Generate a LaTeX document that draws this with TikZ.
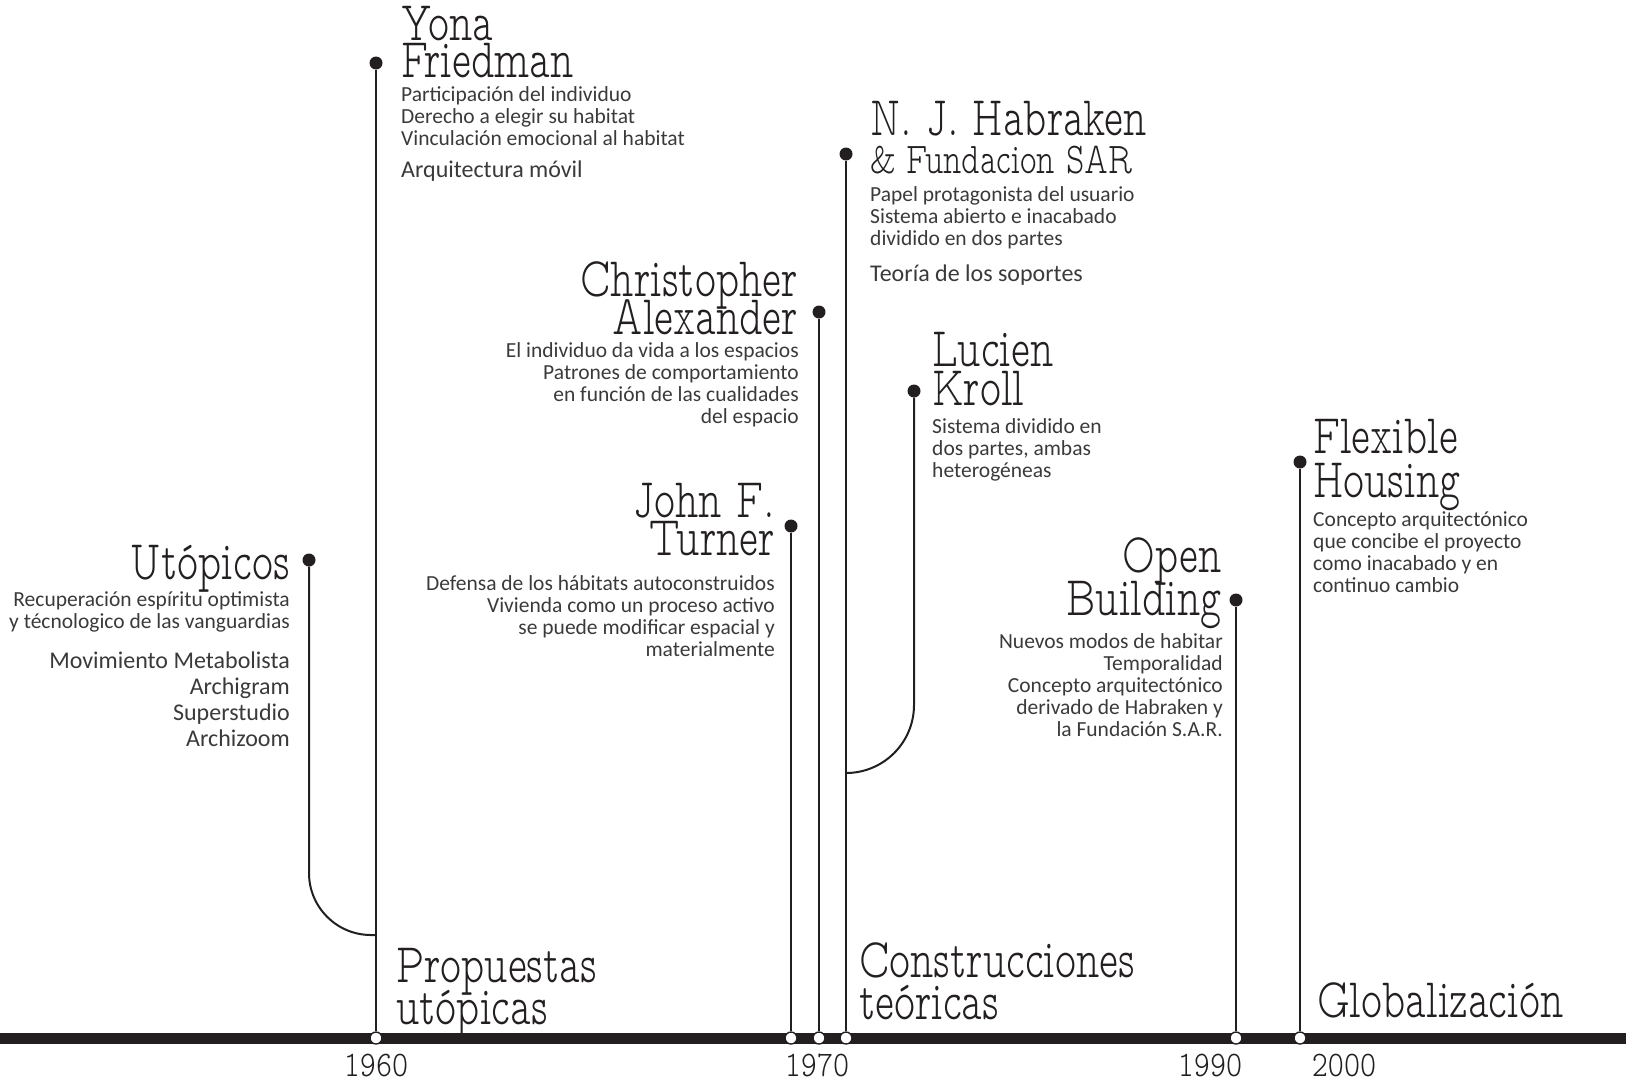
\documentclass[tikz,border=0pt]{standalone}
\usepackage{fontspec}
\setmainfont{Carlito}
\newfontfamily\headfont[FakeStretch=0.715]{lmmonoproplt10-regular.otf}
\newfontfamily\yearfont[FakeStretch=0.85]{lmmonoproplt10-regular.otf}
\definecolor{TimeInk}{HTML}{231F20}
\definecolor{TimeText}{HTML}{3A3A3A}
\newcommand\tightlines{\lineskiplimit=-100pt\relax}
\usetikzlibrary{positioning}

\begin{document}
\begin{tikzpicture}[
        x=1pt, y=-1pt,
        headline/.style={font={\headfont\fontsize{56}{39}\selectfont\tightlines}, text=TimeInk, inner sep=0pt},
        txt/.style={font={\fontsize{21.5}{22}\selectfont\tightlines}, text=TimeText, inner sep=0pt},
        yearlbl/.style={font={\yearfont\fontsize{36}{36}\selectfont}, text=TimeInk, inner sep=0pt},
        pindot/.style={circle, fill=TimeInk, inner sep=0pt, minimum size=13pt},
        yeartick/.style={circle, draw=TimeInk, fill=white, line width=1.4pt, inner sep=0pt, minimum size=12pt},
        stem/.style={draw=TimeInk, line width=2pt},
        bar/.style={draw=TimeInk, line width=11pt}
    ]
        \useasboundingbox (0,0) rectangle (1632,1080);

        % timeline
        \coordinate (barL) at (0,1038);
        \coordinate (barR) at (1626,1038);
        \draw[bar] (barL) -- (barR);

        % markers on the bar
        \node[yeartick] (tFriedman) at (376,1038) {};
        \node[yeartick] (tTurner) at (791,1038) {};
        \node[yeartick] (tAlexander) at (819,1038) {};
        \node[yeartick] (tHabraken) at (846,1038) {};
        \node[yeartick] (tOpen) at (1236,1038) {};
        \node[yeartick] (tFlexible) at (1300,1038) {};

        % pins
        \node[pindot] (pFriedman) at (376,63) {};
        \node[pindot] (pUtopicos) at (309,560) {};
        \node[pindot] (pTurner) at (791,526) {};
        \node[pindot] (pAlexander) at (819,312) {};
        \node[pindot] (pHabraken) at (846,154) {};
        \node[pindot] (pKroll) at (914,391) {};
        \node[pindot] (pOpen) at (1236,600) {};
        \node[pindot] (pFlexible) at (1300,462) {};

        \coordinate (jUtopicos) at (376,935);
        \coordinate (jKroll) at (846,773);

        \draw[stem] (pFriedman) -- (tFriedman);
        \draw[stem] (pTurner) -- (tTurner);
        \draw[stem] (pAlexander) -- (tAlexander);
        \draw[stem] (pHabraken) -- (tHabraken);
        \draw[stem] (pOpen) -- (tOpen);
        \draw[stem] (pFlexible) -- (tFlexible);
        \draw[stem, rounded corners=62pt] (pUtopicos) |- (jUtopicos);
        \draw[stem, rounded corners=68pt] (pKroll) |- (jKroll);

        % names
        \node[headline, anchor=north west, align=left] (hFriedman) at (401,6) {Yona\\[-2pt]Friedman};
        \node[txt, anchor=north west, align=left] (bFriedman) at (401,86) {Participación del individuo\\Derecho a elegir su habitat\\Vinculación emocional al habitat\\[10pt]{\fontsize{24}{26}\selectfont Arquitectura móvil}};

        \node[headline, anchor=north west, align=left] (hHabraken) at (870,101) {N. J. Habraken\\[-1pt]{\fontsize{44}{39}\selectfont\& Fundacion SAR}};
        \node[txt, anchor=north west, align=left] (bHabraken) at (870,186) {Papel protagonista del usuario\\Sistema abierto e inacabado\\dividido en dos partes\\[14pt]{\fontsize{24}{26}\selectfont Teoría de los soportes}};

        \node[headline, anchor=north east, align=right] (hAlexander) at (798,261) {Christopher\\[-1pt]Alexander};
        \node[txt, anchor=north east, align=right] (bAlexander) at (799,342) {El individuo da vida a los espacios\\Patrones de comportamiento\\en función de las cualidades\\del espacio};

        \node[headline, anchor=north west, align=left] (hKroll) at (932,332) {Lucien\\Kroll};
        \node[txt, anchor=north west, align=left] (bKroll) at (932,418) {Sistema dividido en\\dos partes, ambas\\heterogéneas};

        \node[headline, anchor=north east, align=right] (hTurner) at (775,483) {John F.\\[-1pt]Turner};
        \node[txt, anchor=north east, align=right] (bTurner) at (775,575) {Defensa de los hábitats autoconstruidos\\Vivienda como un proceso activo\\se puede modificar espacial y\\materialmente};

        \node[headline, anchor=north east, align=right] (hUtopicos) at (290,545) {Utópicos};
        \node[txt, anchor=north east, align=right] (bUtopicos) at (290,591) {Recuperación espíritu optimista\\y técnologico de las vanguardias\\[18pt]{\fontsize{24}{26}\selectfont Movimiento Metabolista}\\[4pt]{\fontsize{24}{26}\selectfont Archigram}\\[4pt]{\fontsize{24}{26}\selectfont Superstudio}\\[4pt]{\fontsize{24}{26}\selectfont Archizoom}};

        \node[headline, anchor=north east, align=right] (hOpen) at (1222,537) {Open\\[4pt]Building};
        \node[txt, anchor=north east, align=right] (bOpen) at (1223,633) {Nuevos modos de habitar\\Temporalidad\\Concepto arquitectónico\\derivado de Habraken y\\la Fundación S.A.R.};

        \node[headline, anchor=north west, align=left] (hFlexible) at (1313,419) {Flexible\\[5pt]Housing};
        \node[txt, anchor=north west, align=left] (bFlexible) at (1313,511) {Concepto arquitectónico\\que concibe el proyecto\\como inacabado y en\\continuo cambio};

        % periods
        \node[headline, anchor=north west, align=left] (perUtop) at (396,948) {Propuestas\\[3pt]utópicas};
        \node[headline, anchor=north west, align=left] (perTeor) at (859,942) {Construcciones\\[3pt]teóricas};
        \node[headline, anchor=north west, align=left] (perGlob) at (1317,982) {Globalización};

        % years
        \node[yearlbl] (y1960) at (376,1065) {1960};
        \node[yearlbl] (y1970) at (817,1065) {1970};
        \node[yearlbl] (y1990) at (1210,1065) {1990};
        \node[yearlbl] (y2000) at (1344,1065) {2000};
    \end{tikzpicture}
\end{document}
